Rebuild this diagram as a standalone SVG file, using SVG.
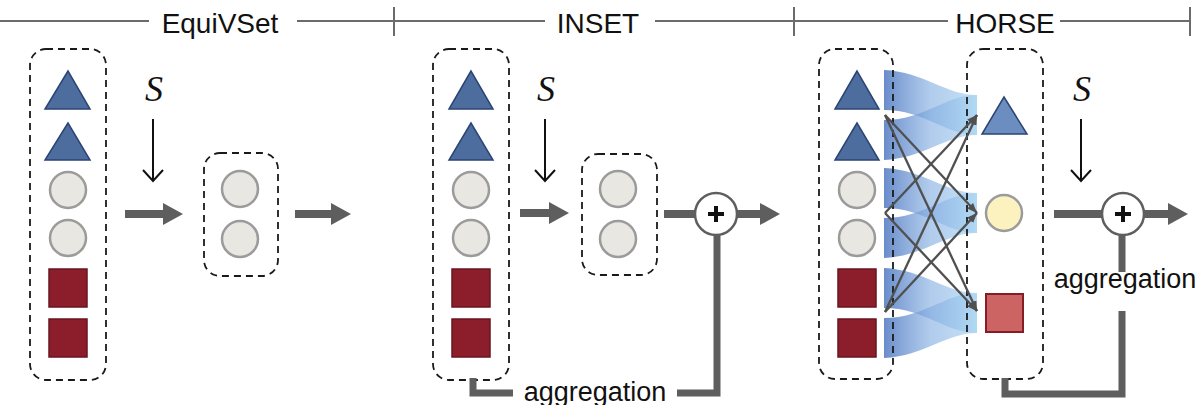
<svg xmlns="http://www.w3.org/2000/svg" width="1200" height="405" viewBox="0 0 1200 405">
<style>
.hdr{font-family:"Liberation Sans",Arial,sans-serif;font-size:28px;fill:#111;text-anchor:middle}
.rule{stroke:#6b6b6b;stroke-width:2;fill:none}
.box{fill:none;stroke:#1a1a1a;stroke-width:1.8;stroke-dasharray:7 5}
.tri{fill:#4d6d9f;stroke:#2b4474;stroke-width:1.5}
.tri2{fill:#6b8dc0;stroke:#2b4474;stroke-width:1.5}
.cir{fill:#e9e7e2;stroke:#9b9b9b;stroke-width:2.5}
.ycir{fill:#fbf2bf;stroke:#9b9b9b;stroke-width:2.5}
.sq{fill:#8c1d2a;stroke:#6a1520;stroke-width:1.5}
.psq{fill:#cd6464;stroke:#861c26;stroke-width:2}
.s{font-family:"Liberation Serif","Times New Roman",serif;font-style:italic;font-size:36px;fill:#111;text-anchor:middle}
.agg{font-family:"Liberation Sans",Arial,sans-serif;font-size:27px;fill:#111;text-anchor:middle}
.thick{stroke:#5e5e5e;stroke-width:8;fill:none}
.aggl{stroke:#5e5e5e;stroke-width:7;fill:none;stroke-linejoin:miter}
.thin{stroke:#111;stroke-width:2;fill:none}
.x{stroke:#505050;stroke-width:2.3;fill:none}
.plus{fill:#fff;stroke:#5e5e5e;stroke-width:2.5}
.pl{stroke:#111;stroke-width:4}
.fan{fill:url(#fanGrad)}
</style>
<defs>
<linearGradient id="fanGrad" x1="0" y1="0" x2="1" y2="0">
<stop offset="0" stop-color="#4470bd" stop-opacity="0.8"/>
<stop offset="0.5" stop-color="#7eaae0" stop-opacity="0.6"/>
<stop offset="1" stop-color="#a6d4f2" stop-opacity="0.65"/>
</linearGradient>
<marker id="headThick" markerUnits="userSpaceOnUse" markerWidth="20" markerHeight="22" viewBox="0 0 20 22" refX="0" refY="11" orient="auto">
<path d="M0,0 L20,11 L0,22 Z" fill="#5e5e5e"/>
</marker>
<marker id="headThin" markerUnits="userSpaceOnUse" markerWidth="14" markerHeight="22" viewBox="0 0 14 22" refX="12" refY="11" orient="auto">
<path d="M1,1 L12,11 L1,21" fill="none" stroke="#111" stroke-width="2"/>
</marker>
<marker id="headX" markerUnits="userSpaceOnUse" markerWidth="10" markerHeight="8" viewBox="0 0 10 8" refX="10" refY="4" orient="auto">
<path d="M0,0 L10,4 L0,8 Z" fill="#505050"/>
</marker>
</defs>
<rect width="1200" height="405" fill="#fff"/>

<g id="header">
<path class="rule" d="M0,21 H149 M297,21 H545 M394,7 V36 M655,21 H948 M794,7 V36 M1060,21 H1190 M1190,7 V36"/>
<text class="hdr" x="220" y="33">EquiVSet</text>
<text class="hdr" x="598" y="33">INSET</text>
<text class="hdr" x="1005" y="33">HORSE</text>
</g>

<g id="fans">
<path class="fan" d="M884,70 C925,72 945,95 977,95 L977,135 C945,135 925,110 884,110 Z"/>
<path class="fan" d="M884,120 C925,120 945,95 977,95 L977,135 C945,135 925,158 884,160 Z"/>
<path class="fan" d="M884,168 C925,170 945,193 977,193 L977,233 C945,233 925,208 884,208 Z"/>
<path class="fan" d="M884,218 C925,218 945,193 977,193 L977,233 C945,233 925,256 884,258 Z"/>
<path class="fan" d="M884,268 C925,270 945,293 977,293 L977,333 C945,333 925,308 884,308 Z"/>
<path class="fan" d="M884,318 C925,318 945,293 977,293 L977,333 C945,333 925,356 884,358 Z"/>
</g>

<g id="equivset-input">
<rect class="box" x="30" y="49" width="76" height="331" rx="16"/>
<polygon class="tri" points="68,71 45,109 90,109"/>
<polygon class="tri" points="68,123 45,160 90,160"/>
<circle class="cir" cx="68" cy="190" r="18"/>
<circle class="cir" cx="68" cy="238" r="18"/>
<rect class="sq" x="49" y="269" width="38" height="38"/>
<rect class="sq" x="49" y="319" width="38" height="38"/>
</g>
<g id="equivset-output">
<rect class="box" x="204" y="153" width="74" height="123" rx="16"/>
<circle class="cir" cx="240" cy="189" r="18"/>
<circle class="cir" cx="240" cy="239" r="18"/>
</g>

<g id="inset-input">
<rect class="box" x="433" y="49" width="76" height="331" rx="16"/>
<polygon class="tri" points="471,71 449,109 493,109"/>
<polygon class="tri" points="471,123 449,160 493,160"/>
<circle class="cir" cx="471" cy="190" r="18"/>
<circle class="cir" cx="471" cy="238" r="18"/>
<rect class="sq" x="452" y="269" width="38" height="38"/>
<rect class="sq" x="452" y="319" width="38" height="38"/>
</g>
<g id="inset-output">
<rect class="box" x="582" y="154" width="75" height="121" rx="16"/>
<circle class="cir" cx="618" cy="189" r="18"/>
<circle class="cir" cx="618" cy="239" r="18"/>
</g>
<g id="inset-plus">
<circle class="plus" cx="716" cy="214" r="21"/>
<path class="pl" d="M708,214 H724 M716,206 V222"/>
</g>

<g id="horse-input">
<rect class="box" x="819" y="49" width="74" height="330" rx="16"/>
<polygon class="tri" points="857,71 835,109 879,109"/>
<polygon class="tri" points="857,123 835,160 879,160"/>
<circle class="cir" cx="857" cy="190" r="18"/>
<circle class="cir" cx="857" cy="238" r="18"/>
<rect class="sq" x="838" y="269" width="38" height="38"/>
<rect class="sq" x="838" y="319" width="38" height="38"/>
</g>
<g id="horse-output">
<rect class="box" x="967" y="49" width="76" height="330" rx="16"/>
<polygon class="tri2" points="1004,97 982,134 1027,134"/>
<circle class="ycir" cx="1004" cy="213" r="18"/>
<rect class="psq" x="986" y="294" width="37" height="38"/>
</g>
<g id="horse-plus">
<circle class="plus" cx="1123" cy="214" r="21"/>
<path class="pl" d="M1115,214 H1131 M1123,206 V222"/>
</g>

<g id="labels">
<text class="s" x="154" y="101">S</text>
<text class="s" x="546" y="101">S</text>
<text class="s" x="1082" y="101">S</text>
<text class="agg" x="595" y="401">aggregation</text>
<text class="agg" x="1125" y="288">aggregation</text>
</g>

<g id="connectors">
<line class="thin" x1="153" y1="119" x2="153" y2="181" marker-end="url(#headThin)"/>
<line class="thin" x1="545" y1="119" x2="545" y2="181" marker-end="url(#headThin)"/>
<line class="thin" x1="1081" y1="119" x2="1081" y2="181" marker-end="url(#headThin)"/>

<line class="thick" x1="125" y1="214" x2="163" y2="214" marker-end="url(#headThick)"/>
<line class="thick" x1="295" y1="214" x2="331" y2="214" marker-end="url(#headThick)"/>
<line class="thick" x1="520" y1="213" x2="549" y2="213" marker-end="url(#headThick)"/>
<line class="thick" x1="664" y1="214" x2="695" y2="214"/>
<line class="thick" x1="737" y1="214" x2="760" y2="214" marker-end="url(#headThick)"/>
<line class="thick" x1="1054" y1="214" x2="1102" y2="214"/>
<line class="thick" x1="1144" y1="214" x2="1168" y2="214" marker-end="url(#headThick)"/>

<path class="aggl" d="M473,378 V393 H513"/>
<path class="aggl" d="M677,393 H717 V235"/>
<path class="aggl" d="M1122,235 V272"/>
<path class="aggl" d="M1005,378 V394 H1122 V311"/>

<line class="x" x1="885" y1="115" x2="977" y2="213" marker-end="url(#headX)"/>
<line class="x" x1="885" y1="115" x2="977" y2="311" marker-end="url(#headX)"/>
<line class="x" x1="885" y1="213" x2="977" y2="115" marker-end="url(#headX)"/>
<line class="x" x1="885" y1="213" x2="977" y2="311" marker-end="url(#headX)"/>
<line class="x" x1="885" y1="312" x2="977" y2="115" marker-end="url(#headX)"/>
<line class="x" x1="885" y1="312" x2="977" y2="213" marker-end="url(#headX)"/>
</g>
</svg>
